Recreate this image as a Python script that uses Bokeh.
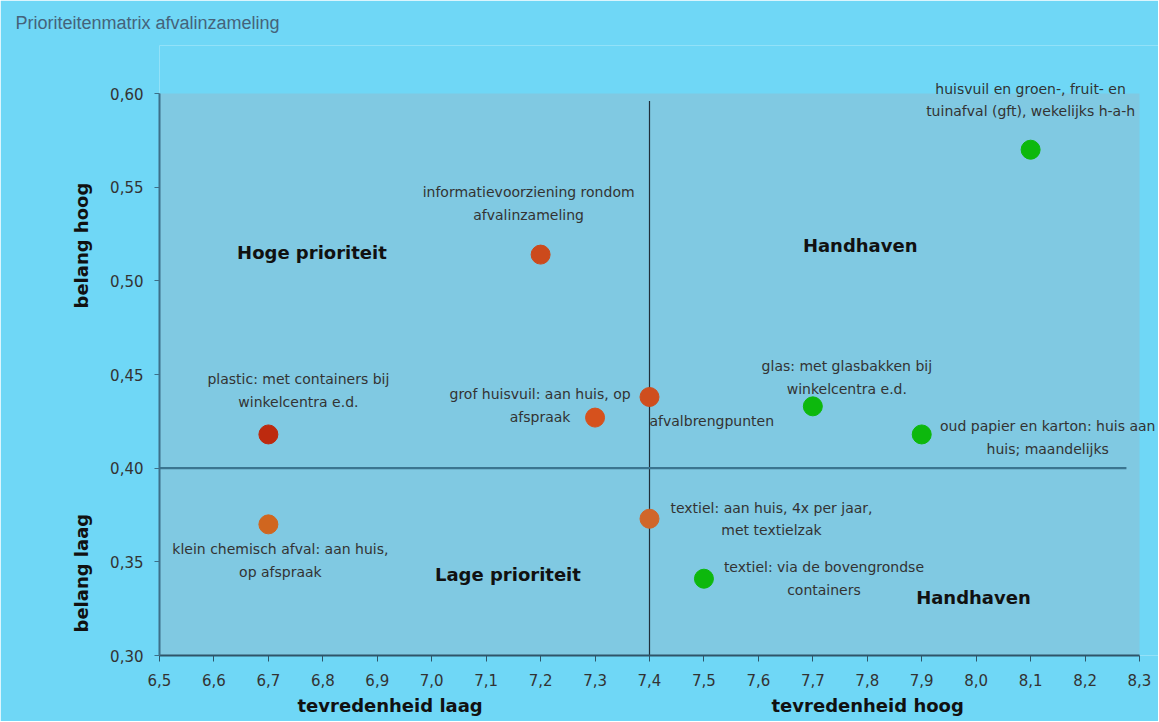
from bokeh.plotting import figure
from bokeh.models import (ColumnDataSource, Label, CustomJSTickFormatter, FixedTicker,
                          Title, BoxAnnotation)
from bokeh.core.properties import value
from bokeh.embed import file_html
from bokeh.resources import INLINE

# ---------------- data ----------------
names = [
    "huisvuil en groen-, fruit- en\ntuinafval (gft), wekelijks h-a-h",
    "informatievoorziening rondom\nafvalinzameling",
    "plastic: met containers bij\nwinkelcentra e.d.",
    "grof huisvuil: aan huis, op\nafspraak",
    "afvalbrengpunten",
    "glas: met glasbakken bij\nwinkelcentra e.d.",
    "oud papier en karton: huis aan\nhuis; maandelijks",
    "klein chemisch afval: aan huis,\nop afspraak",
    "textiel: aan huis, 4x per jaar,\nmet textielzak",
    "textiel: via de bovengrondse\ncontainers",
]
tevredenheid = [8.1, 7.2, 6.7, 7.3, 7.4, 7.7, 7.9, 6.7, 7.4, 7.5]
belang = [0.570, 0.514, 0.418, 0.427, 0.438, 0.433, 0.418, 0.370, 0.373, 0.341]
colors = ["#0db80d", "#cc4a1c", "#bd2a0f", "#d6511d", "#cf4e1e",
          "#0db80d", "#0db80d", "#d0661f", "#d0662a", "#0db80d"]
# label placement (screen offsets from the point in px, y downward) and alignment
label_dx = [0, -12, 30, -55, 0, 34, 126, 12, 122, 120]
label_dy = [-50, -51, -44, -12, 24, -29, 3, 36, 0, 0]
label_align = ["center", "center", "center", "center", "left", "center",
               "center", "center", "center", "center"]

x_ticks = [6.5, 6.6, 6.7, 6.8, 6.9, 7.0, 7.1, 7.2, 7.3, 7.4, 7.5, 7.6, 7.7, 7.8,
           7.9, 8.0, 8.1, 8.2, 8.3]
y_ticks = [0.30, 0.35, 0.40, 0.45, 0.50, 0.55, 0.60]
x_min, x_max = 6.5, 8.3
y_min, y_max = 0.30, 0.60
x_split = 7.4
y_split = 0.40

quadrants = ["Hoge prioriteit", "Handhaven", "Lage prioriteit", "Handhaven"]
quad_x = [6.78, 7.787, 7.14, 7.995]
quad_y = [0.515, 0.519, 0.343, 0.331]

title_text = "Prioriteitenmatrix afvalinzameling"
x_title_low, x_title_high = "tevredenheid laag", "tevredenheid hoog"
y_title_high, y_title_low = "belang hoog", "belang laag"

OUTER = "#6fd7f6"
INNER = "#80c9e2"
TXT = "#333333"
FONT = "DejaVu Sans"

W, H = 1158, 721
LEFT, TOP, BOTTOM = 159, 45, 655          # frame edges in px
PX_X = (1139 - LEFT) / (x_max - x_min)    # px per x unit of the plot area
PX_Y = (BOTTOM - 93) / (y_max - y_min)    # px per y unit of the plot area

p = figure(width=W, height=H, output_backend="svg", toolbar_location=None,
           x_range=(x_min, x_min + (W - LEFT) / PX_X),
           y_range=(y_min, y_min + (BOTTOM - TOP) / PX_Y),
           min_border_left=LEFT, min_border_right=0, min_border_top=TOP,
           min_border_bottom=H - BOTTOM)
p.border_fill_color = OUTER
p.background_fill_color = OUTER
p.outline_line_color = None
p.xgrid.visible = False
p.ygrid.visible = False
p.add_layout(BoxAnnotation(left=x_min, right=x_max, bottom=y_min, top=y_max,
                           fill_color=INNER, fill_alpha=1.0, line_color=None,
                           level="underlay"))

p.title.text = title_text
p.title.align = "left"
p.title.vertical_align = "top"
p.title.offset = -144
p.title.standoff = 22
p.title.text_font = "Liberation Sans"
p.title.text_font_size = "18px"
p.title.text_font_style = "normal"
p.title.text_color = "#45637a"

p.xaxis.ticker = FixedTicker(ticks=x_ticks)
p.yaxis.ticker = FixedTicker(ticks=y_ticks)
p.xaxis.bounds = (x_min, x_max)
p.yaxis.bounds = (y_min, y_max)
p.xaxis.formatter = CustomJSTickFormatter(code="return tick.toFixed(1).replace('.', ',');")
p.yaxis.formatter = CustomJSTickFormatter(code="return tick.toFixed(2).replace('.', ',');")
for ax in (p.xaxis, p.yaxis):
    ax.major_label_text_font = FONT
    ax.major_label_text_font_size = "15px"
    ax.major_label_text_color = TXT
    ax.minor_tick_line_color = None
    ax.major_tick_in = 0
p.xaxis.major_tick_out = 6
p.xaxis.major_label_standoff = 12
p.yaxis.major_tick_out = 5
p.yaxis.major_label_standoff = 11
p.xaxis.axis_line_color = "#2f5468"
p.xaxis.axis_line_width = 2
p.xaxis.major_tick_line_color = "#2f5468"
p.yaxis.axis_line_color = "#3d6f88"
p.yaxis.axis_line_width = 2
p.yaxis.major_tick_line_color = "#3d6f88"


def side_title(text, offset, standoff, valign="bottom"):
    return Title(text=text, align="left", offset=offset, standoff=standoff,
                 vertical_align=valign, text_font=FONT, text_font_size="18px",
                 text_font_style="bold", text_color="#111111")


p.add_layout(side_title(x_title_low, 138, 9), "below")
p.add_layout(side_title(x_title_high, 612, -51, "top"), "below")
p.add_layout(side_title(y_title_low, 23, 31), "left")
p.add_layout(side_title(y_title_high, 347, -77), "left")

# quadrant divider lines
p.line([x_split, x_split], [y_min, 0.596], line_color="#1f2f3a", line_width=1.2)
p.line([x_min, 8.276], [y_split, y_split], line_color="#3b7590", line_width=2.4)

src = ColumnDataSource(dict(x=tevredenheid, y=belang, c=colors, name=names,
                            dx=label_dx, dy=label_dy, al=label_align))
p.scatter("x", "y", source=src, size=19, fill_color="c", line_color="c")

p.text("x", "y", text="name", source=src, x_offset="dx", y_offset="dy",
       text_align="al", text_baseline="middle", text_font=value(FONT),
       text_font_size="14px", text_color=TXT, text_line_height=1.4)

for t, qx, qy in zip(quadrants, quad_x, quad_y):
    p.add_layout(Label(x=qx, y=qy, text=t, text_align="center", text_baseline="middle",
                       text_font=FONT, text_font_size="18px", text_font_style="bold",
                       text_color="#111111"))

open("out.html", "w").write(file_html(p, INLINE))
